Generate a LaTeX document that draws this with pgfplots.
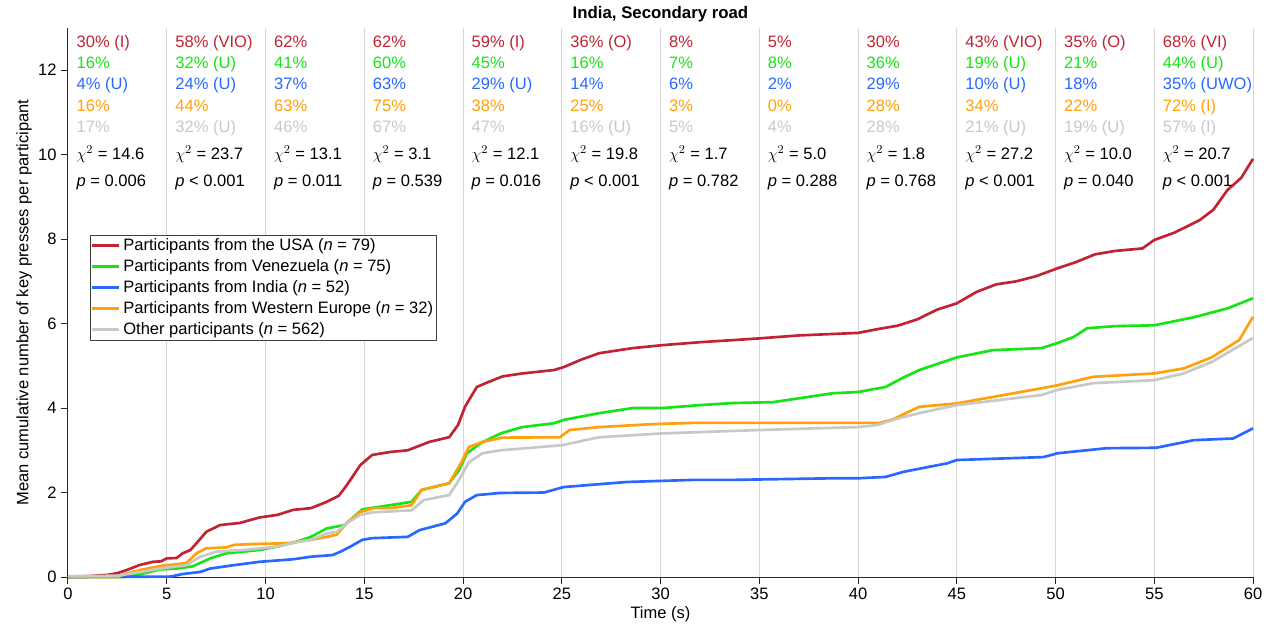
\documentclass[border=0pt]{standalone}
\usepackage{fontspec}
\setmainfont{Liberation Sans}
\usepackage{pgfplots}
\pgfplotsset{compat=1.18}
\definecolor{cUSA}{RGB}{192,36,52}
\definecolor{cVen}{RGB}{22,228,22}
\definecolor{cInd}{RGB}{40,104,255}
\definecolor{cEur}{RGB}{255,160,12}
\definecolor{cOth}{RGB}{200,200,200}
\definecolor{cGrid}{RGB}{215,215,215}
\newcommand\fs{\fontsize{12.4}{15}\selectfont}
\newcommand\col[8]{%
 \node[anchor=base west,font=\fs,text=cUSA] at (axis cs:#1,12.53) {#2};
 \node[anchor=base west,font=\fs,text=cVen] at (axis cs:#1,12.04) {#3};
 \node[anchor=base west,font=\fs,text=cInd] at (axis cs:#1,11.54) {#4};
 \node[anchor=base west,font=\fs,text=cEur] at (axis cs:#1,11.03) {#5};
 \node[anchor=base west,font=\fs,text=cOth] at (axis cs:#1,10.53) {#6};
 \node[anchor=base west,font=\fs] at (axis cs:#1,9.89) {$\chi^2$ = #7};
 \node[anchor=base west,font=\fs] at (axis cs:#1,9.24) {\textit{p} #8};
}
\begin{document}
\begin{tikzpicture}
\begin{axis}[
  scale only axis, width=888.75pt, height=411.75pt,
  xmin=0, xmax=60, ymin=0, ymax=13,
  xtick={0,5,...,60}, ytick={0,2,...,12},
  axis x line*=bottom, axis y line*=left,
  axis line style={black!85, line width=0.75pt},
  tick style={black!85, line width=0.75pt},
  tick align=outside, major tick length=5pt,
  xmajorgrids, grid style={cGrid, line width=0.75pt},
  /pgf/number format/assume math mode=true,
  tick label style={font=\fs},
  label style={font=\fs},
  xlabel={Time (s)},
  xlabel style={yshift=2pt},
  ylabel={Mean cumulative number of key presses per participant},
  ylabel style={yshift=-2pt},
  title={India, Secondary road},
  title style={font=\fontsize{12.6}{15}\selectfont\bfseries, yshift=-5pt},
  legend cell align=left,
  legend style={at={(axis cs:1.1,8.1)}, anchor=north west, draw=black!75,
    font=\fs, inner sep=0.5pt, row sep=1.3pt},
  legend image code/.code={\draw[#1] (0cm,0cm) -- (0.72cm,0cm);},
  every axis plot/.append style={line width=2pt},
  clip=false,
]
\addplot[cUSA] coordinates {
(0,0) (1,0.02) (2,0.05) (2.5,0.09) (3,0.17) (3.6,0.28) (4.3,0.36) (4.7,0.37) (5,0.44) (5.5,0.45) (5.8,0.56) (6.2,0.64) (6.6,0.85) (7.0,1.07) (7.7,1.23) (8.7,1.28) (9.7,1.41) (10.6,1.47) (11.4,1.59) (12.3,1.63) (13.1,1.78) (13.7,1.92) (14.0,2.1) (14.3,2.3) (14.8,2.65) (15.4,2.89) (16.3,2.96) (17.2,3.0) (18.3,3.2) (19.3,3.31) (19.75,3.6) (20.1,4.03) (20.7,4.5) (21.2,4.6) (22,4.75) (23,4.82) (24.6,4.9) (25.1,4.97) (26,5.15) (26.9,5.3) (28.6,5.42) (30.1,5.49) (32,5.56) (33.7,5.61) (35,5.65) (37,5.72) (40,5.78) (41,5.87) (42,5.95) (43,6.1) (44,6.33) (45,6.48) (46,6.75) (47,6.93) (48,7.0) (49,7.12) (50.1,7.31) (51,7.45) (52,7.64) (53,7.72) (54.4,7.78) (55,7.98) (56,8.15) (57.3,8.45) (58,8.7) (58.7,9.16) (59.4,9.45) (60,9.9)
};
\addlegendentry{Participants from the USA (\textit{n} = 79)}
\addplot[cVen] coordinates {
(0,0) (2.8,0) (3.7,0.07) (4.66,0.18) (5.5,0.2) (6.3,0.25) (7.2,0.44) (8.0,0.56) (9.7,0.64) (10.6,0.72) (11.4,0.81) (12.3,0.95) (13.1,1.15) (14.0,1.23) (14.9,1.6) (16.3,1.7) (17.4,1.78) (17.9,2.06) (19.3,2.22) (19.8,2.53) (20.2,2.93) (20.9,3.17) (21.9,3.4) (23,3.55) (24.6,3.64) (25.1,3.72) (26.9,3.88) (28.6,4.0) (30.1,4.0) (32,4.07) (33.7,4.12) (35.7,4.14) (37,4.23) (38.7,4.35) (40,4.38) (41.4,4.5) (42.2,4.7) (43.1,4.9) (45,5.2) (46.8,5.37) (49.3,5.42) (50.1,5.54) (50.9,5.68) (51.6,5.89) (53,5.94) (55,5.96) (57,6.15) (58.7,6.36) (60,6.6)
};
\addlegendentry{Participants from Venezuela (\textit{n} = 75)}
\addplot[cInd] coordinates {
(0,0) (5.2,0.01) (5.8,0.07) (6.7,0.12) (7.2,0.2) (8.4,0.28) (9.7,0.36) (11.4,0.42) (12.3,0.48) (13.4,0.52) (13.8,0.6) (14.3,0.72) (14.9,0.88) (15.4,0.92) (17.2,0.95) (17.8,1.11) (19.1,1.27) (19.7,1.5) (20.1,1.78) (20.7,1.94) (21.9,1.99) (24.1,2.0) (25.1,2.13) (28.3,2.25) (31.7,2.3) (33.7,2.3) (39.1,2.34) (40.1,2.34) (41.4,2.37) (42.3,2.49) (43.5,2.6) (44.5,2.69) (45,2.77) (49.4,2.84) (50.1,2.93) (52.6,3.05) (55.1,3.06) (57,3.24) (59,3.28) (60,3.52)
};
\addlegendentry{Participants from India (\textit{n} = 52)}
\addplot[cEur] coordinates {
(0,0) (2.5,0) (3,0.09) (3.7,0.17) (4.66,0.26) (6.0,0.33) (6.5,0.56) (7.0,0.68) (8.0,0.7) (8.4,0.76) (9.3,0.78) (11.1,0.8) (12.3,0.88) (13.1,0.95) (13.6,1.0) (14.1,1.27) (14.8,1.54) (15.5,1.63) (16.3,1.63) (17.4,1.70) (17.9,2.06) (19.3,2.22) (19.9,2.7) (20.3,3.08) (21,3.2) (22,3.3) (24.9,3.31) (25.4,3.48) (26.9,3.55) (29.6,3.62) (31.7,3.65) (41.1,3.65) (41.7,3.72) (43.1,4.03) (45,4.11) (46.8,4.26) (49.3,4.47) (50.1,4.54) (51.9,4.74) (55,4.82) (56.5,4.94) (57.9,5.2) (59.3,5.61) (60,6.16)
};
\addlegendentry{Participants from Western Europe (\textit{n} = 32)}
\addplot[cOth] coordinates {
(0,0.02) (2.5,0.03) (3.7,0.12) (4.66,0.2) (6,0.28) (6.7,0.48) (7.5,0.6) (8.9,0.64) (10.6,0.72) (11.4,0.81) (12.3,0.88) (13.1,1.03) (13.6,1.07) (14.1,1.27) (14.8,1.47) (15.4,1.53) (17.4,1.58) (18,1.82) (19.3,1.94) (19.8,2.3) (20.3,2.72) (21,2.93) (21.9,3.0) (25,3.12) (26.9,3.31) (30.1,3.4) (35,3.48) (40,3.55) (41,3.6) (42,3.75) (43.1,3.88) (45,4.07) (49.3,4.31) (50.1,4.43) (51.9,4.59) (55,4.66) (56.5,4.82) (57.9,5.09) (60,5.66)
};
\addlegendentry{Other participants (\textit{n} = 562)}
\col{0.2}{30\% (I)}{16\%}{4\% (U)}{16\%}{17\%}{14.6}{= 0.006}
\col{5.2}{58\% (VIO)}{32\% (U)}{24\% (U)}{44\%}{32\% (U)}{23.7}{< 0.001}
\col{10.2}{62\%}{41\%}{37\%}{63\%}{46\%}{13.1}{= 0.011}
\col{15.2}{62\%}{60\%}{63\%}{75\%}{67\%}{3.1}{= 0.539}
\col{20.2}{59\% (I)}{45\%}{29\% (U)}{38\%}{47\%}{12.1}{= 0.016}
\col{25.2}{36\% (O)}{16\%}{14\%}{25\%}{16\% (U)}{19.8}{< 0.001}
\col{30.2}{8\%}{7\%}{6\%}{3\%}{5\%}{1.7}{= 0.782}
\col{35.2}{5\%}{8\%}{2\%}{0\%}{4\%}{5.0}{= 0.288}
\col{40.2}{30\%}{36\%}{29\%}{28\%}{28\%}{1.8}{= 0.768}
\col{45.2}{43\% (VIO)}{19\% (U)}{10\% (U)}{34\%}{21\% (U)}{27.2}{< 0.001}
\col{50.2}{35\% (O)}{21\%}{18\%}{22\%}{19\% (U)}{10.0}{= 0.040}
\col{55.2}{68\% (VI)}{44\% (U)}{35\% (UWO)}{72\% (I)}{57\% (I)}{20.7}{< 0.001}
\end{axis}
\pgfresetboundingbox
\path (-51pt,-46.5pt) rectangle (903.75pt,432.75pt);
\end{tikzpicture}
\end{document}
